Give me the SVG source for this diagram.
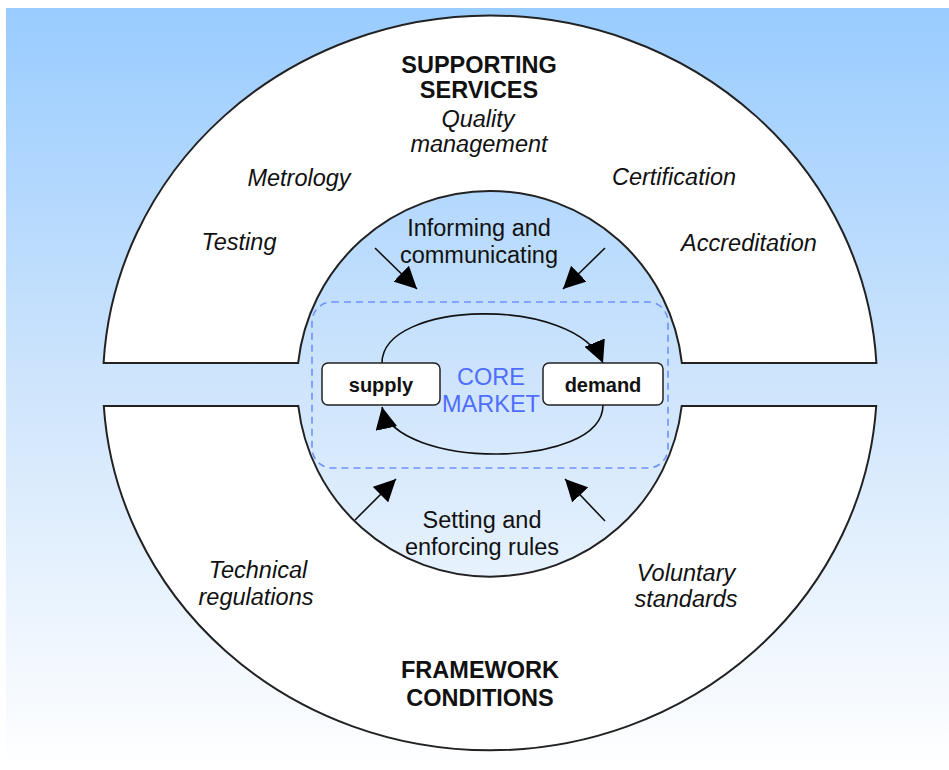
<svg xmlns="http://www.w3.org/2000/svg" width="949" height="770" viewBox="0 0 949 770">
<defs>
<linearGradient id="bg" x1="0" y1="0" x2="0" y2="1">
<stop offset="0" stop-color="#99CCFF"/>
<stop offset="0.5" stop-color="#CFE5FC"/>
<stop offset="1" stop-color="#FFFFFF"/>
</linearGradient>
<marker id="ah" markerUnits="userSpaceOnUse" markerWidth="23" markerHeight="22" refX="22" refY="11" orient="auto">
<path d="M0,0 L22,11 L0,22 Z" fill="#000"/>
</marker>
<style>
.band{fill:#fff;stroke:#222;stroke-width:2}
.t{font-family:"Liberation Sans",Arial,sans-serif;fill:#111;text-anchor:middle}
.h{font-size:23.5px;font-weight:bold}
.i{font-size:23.5px;font-style:italic}
.c{font-size:23.5px}
.b{font-size:20px;font-weight:bold}
.cm{fill:#4f6dff}
.box{fill:#fff;stroke:#222;stroke-width:1.5}
.con{fill:none;stroke:#111;stroke-width:1.6}
</style>
</defs>
<rect x="6" y="8" width="943" height="762" fill="url(#bg)"/>

<g id="supporting-services">
<path class="band" d="M103.6,363 A387,368 0 0 1 876.4,363 L681.85,363 A193,193 0 0 0 298.15,363 Z"/>
<text class="t h" x="479" y="73">SUPPORTING</text>
<text class="t h" x="479" y="98">SERVICES</text>
<text class="t i" x="478" y="127">Quality</text>
<text class="t i" x="479" y="152">management</text>
<text class="t i" x="299" y="186">Metrology</text>
<text class="t i" x="674" y="185">Certification</text>
<text class="t i" x="239" y="250">Testing</text>
<text class="t i" x="749" y="251">Accreditation</text>
</g>

<g id="framework-conditions">
<path class="band" d="M103.8,406 L298.3,406 A193,193 0 0 0 681.7,406 L876.2,406 A387,368 0 0 1 103.8,406 Z"/>
<text class="t i" x="258" y="578">Technical</text>
<text class="t i" x="256" y="605">regulations</text>
<text class="t i" x="686" y="581">Voluntary</text>
<text class="t i" x="686" y="607">standards</text>
<text class="t h" x="480" y="678">FRAMEWORK</text>
<text class="t h" x="480" y="706">CONDITIONS</text>
</g>

<g id="core-market">
<rect x="312" y="302" width="356" height="166" rx="20" fill="none" stroke="#7090ff" stroke-width="1.6" stroke-dasharray="7 5"/>
<text class="t c cm" x="491" y="385">CORE</text>
<text class="t c cm" x="491" y="412">MARKET</text>
</g>

<g id="informing">
<text class="t c" x="479" y="236">Informing and</text>
<text class="t c" x="479" y="263">communicating</text>
</g>

<g id="setting-rules">
<text class="t c" x="482" y="528">Setting and</text>
<text class="t c" x="482" y="555">enforcing rules</text>
</g>

<g id="connectors">
<path class="con" d="M382,363 C382,300 575,295 603,363" marker-end="url(#ah)"/>
<path class="con" d="M603,405 C603,470 395,470 382,407" marker-end="url(#ah)"/>
<line class="con" x1="375" y1="248" x2="417" y2="289" marker-end="url(#ah)"/>
<line class="con" x1="605" y1="248" x2="563" y2="289" marker-end="url(#ah)"/>
<line class="con" x1="355" y1="520" x2="396" y2="479" marker-end="url(#ah)"/>
<line class="con" x1="605" y1="521" x2="565" y2="479" marker-end="url(#ah)"/>
</g>

<g id="supply">
<rect class="box" x="322" y="363" width="118" height="42" rx="6"/>
<text class="t b" x="381" y="392">supply</text>
</g>

<g id="demand">
<rect class="box" x="543" y="363" width="120" height="42" rx="6"/>
<text class="t b" x="603" y="392">demand</text>
</g>
</svg>
